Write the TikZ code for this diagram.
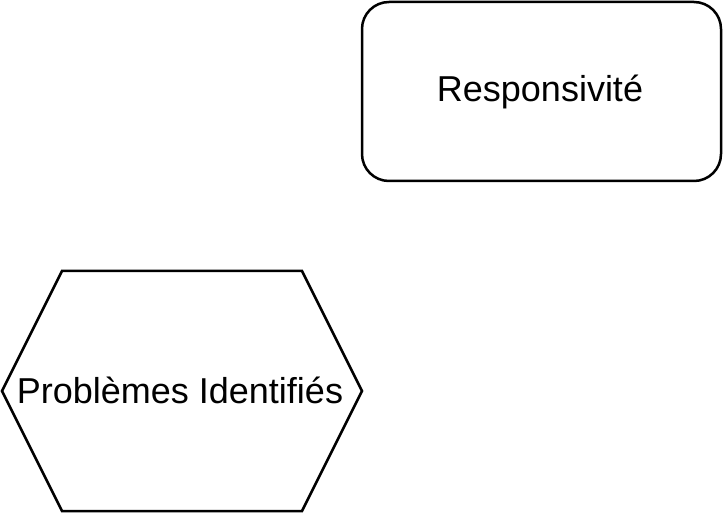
\documentclass[tikz,border=0pt]{standalone}
\usepackage{fontspec}
\setmainfont{Liberation Sans}
\begin{document}
\begin{tikzpicture}
[x=0.5pt, y=-0.5pt, line width=1.25pt, font=\fontsize{18}{22}\selectfont]
\useasboundingbox (0,0) rectangle (723,513);
\draw [rounded corners=13.5pt] (362,2) rectangle (721,181);
\node (resp) at (540,91.5) {Responsivité};
\draw (2,391) -- (62,271) -- (302,271) -- (362,391) -- (302,511) -- (62,511) -- cycle;
\node (prob) at (180,390.5) {Problèmes Identifiés};
\end{tikzpicture}
\end{document}
